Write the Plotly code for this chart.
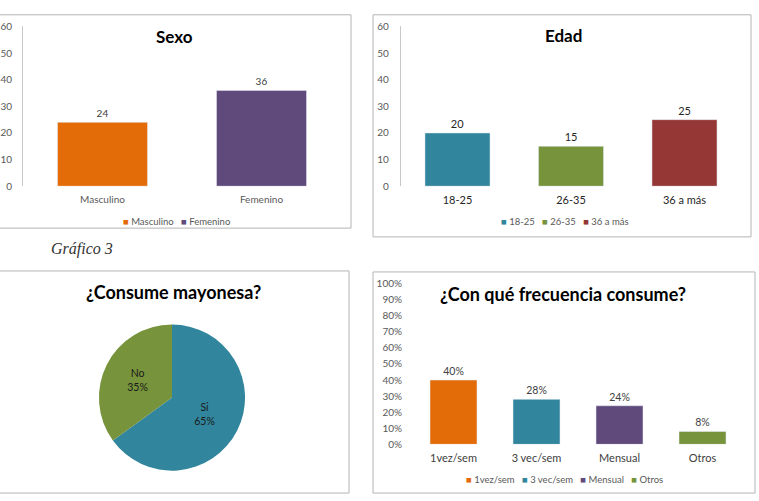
import plotly.graph_objects as go

W, H = 759, 501

# ---- data ----
sexo_cats = ["Masculino", "Femenino"]
sexo_vals = [24, 36]
sexo_colors = ["#E36C09", "#604A7B"]

edad_cats = ["18-25", "26-35", "36 a más"]
edad_vals = [20, 15, 25]
edad_colors = ["#31859C", "#77933C", "#953735"]

pie_labels = ["Si", "No"]
pie_vals = [65, 35]
pie_colors = ["#31859C", "#77933C"]

freq_cats = ["1vez/sem", "3 vec/sem", "Mensual", "Otros"]
freq_vals = [0.40, 0.28, 0.24, 0.08]
freq_colors = ["#E36C09", "#31859C", "#604A7B", "#77933C"]

FONT = "Lato, Carlito, Calibri, sans-serif"


def px(x):
    return x / W


def py(y):
    return 1 - y / H


fig = go.Figure()

# Sexo bars
for c, v, col in zip(sexo_cats, sexo_vals, sexo_colors):
    fig.add_trace(go.Bar(x=[c], y=[v], marker_color=col, width=0.566, text=[str(v)],
                         textposition="outside", textfont=dict(size=10, color="#404040"),
                         cliponaxis=False, xaxis="x", yaxis="y", showlegend=False))
# Edad bars
for c, v, col in zip(edad_cats, edad_vals, edad_colors):
    fig.add_trace(go.Bar(x=[c], y=[v], marker_color=col, width=0.573, text=[str(v)],
                         textposition="outside", textfont=dict(size=11, color="#262626"),
                         cliponaxis=False, xaxis="x2", yaxis="y2", showlegend=False))
# Frecuencia bars
for c, v, col in zip(freq_cats, freq_vals, freq_colors):
    fig.add_trace(go.Bar(x=[c], y=[v], marker_color=col, width=0.566,
                         text=[f"{round(v*100)}%"],
                         textposition="outside", textfont=dict(size=10.5, color="#404040"),
                         cliponaxis=False, xaxis="x3", yaxis="y3", showlegend=False))
# Pie
fig.add_trace(go.Pie(labels=pie_labels, values=pie_vals, marker=dict(colors=pie_colors, line=dict(width=0)),
                     sort=False, direction="clockwise", rotation=0,
                     textinfo="label+percent", textposition="inside",
                     insidetextorientation="horizontal",
                     texttemplate="%{label}<br>%{percent:.0%}",
                     textfont=dict(size=10.5, color="#1a1a1a", family="Lato, sans-serif"),
                     domain=dict(x=[px(97), px(247)], y=[py(476), py(326)]),
                     showlegend=False))

tickfont_small = dict(size=10, color="#595959", family=FONT)

fig.update_layout(
    width=W, height=H, margin=dict(l=0, r=0, t=0, b=0),
    paper_bgcolor="white", plot_bgcolor="white",
    barmode="overlay", font=dict(family=FONT),
    xaxis=dict(domain=[px(23), px(341)], anchor="y", type="category", range=[-0.5, 1.5],
               showline=False, showgrid=False, ticks="", tickfont=tickfont_small, ticklabelstandoff=6),
    yaxis=dict(domain=[py(184), py(20)], anchor="x", range=[0, 60], dtick=10, showgrid=False,
               zeroline=False, showline=True, linecolor="#C8C8C8", linewidth=1, ticks="",
               tickfont=tickfont_small, ticklabelstandoff=8),
    xaxis2=dict(domain=[px(400.75), px(741.25)], anchor="y2", type="category", range=[-0.5, 2.5],
                showline=False, showgrid=False, ticks="",
                tickfont=dict(size=11, color="#262626", family=FONT), ticklabelstandoff=6),
    yaxis2=dict(domain=[py(184), py(20)], anchor="x2", range=[0, 60], dtick=10, showgrid=False,
                zeroline=False, showline=True, linecolor="#C8C8C8", linewidth=1, ticks="",
                tickfont=tickfont_small, ticklabelstandoff=9),
    xaxis3=dict(domain=[px(412), px(744)], anchor="y3", type="category", range=[-0.5, 3.5],
                showline=False, showgrid=False, ticks="",
                tickfont=dict(size=11, color="#404040", family=FONT), ticklabelstandoff=6),
    yaxis3=dict(domain=[py(449), py(284)], anchor="x3", range=[0, 1], dtick=0.1, tickformat=".0%",
                showgrid=False, zeroline=False, showline=False, ticks="",
                tickfont=tickfont_small, ticklabelstandoff=9),
)

# panel borders
border = dict(color="#B4B4B4", width=1)
for x0, y0, x1, y1 in [(-2, 8, 351, 227), (373, 8, 751, 236), (-2, 271, 349, 499), (373, 272, 755, 499)]:
    fig.add_shape(type="rect", xref="paper", yref="paper", x0=px(x0), x1=px(x1), y0=py(y1), y1=py(y0),
                  line=border, fillcolor="rgba(0,0,0,0)", layer="below")

# titles
titles = [("Sexo", 174, 30, 17), ("Edad", 563, 29, 17),
          ("¿Consume mayonesa?", 173, 293, 18), ("¿Con qué frecuencia consume?", 563, 295, 18)]
for t, x, y, s in titles:
    fig.add_annotation(text=f"<b>{t}</b>", xref="paper", yref="paper", x=px(x), y=py(y),
                       xanchor="center", yanchor="middle", showarrow=False,
                       font=dict(size=s, color="#000000", family=FONT))


def legend_text(cats, cols):
    return "   ".join(f"<span style='color:{c}'>■</span> {n}" for n, c in zip(cats, cols))


for cats, cols, x, y in [(sexo_cats, sexo_colors, 176, 220), (edad_cats, edad_colors, 565, 220),
                         (freq_cats, freq_colors, 564, 485)]:
    fig.add_annotation(text=legend_text(cats, cols), xref="paper", yref="paper", x=px(x), y=py(y),
                       xanchor="center", yanchor="middle", showarrow=False,
                       font=dict(size=9.5, color="#595959", family=FONT))

fig.add_annotation(text="<i>Gráfico 3</i>", xref="paper", yref="paper", x=px(49), y=py(248),
                   xanchor="left", yanchor="middle", showarrow=False,
                   font=dict(size=16, color="#333333", family="Liberation Serif, serif"))

fig.write_html("out.html")
